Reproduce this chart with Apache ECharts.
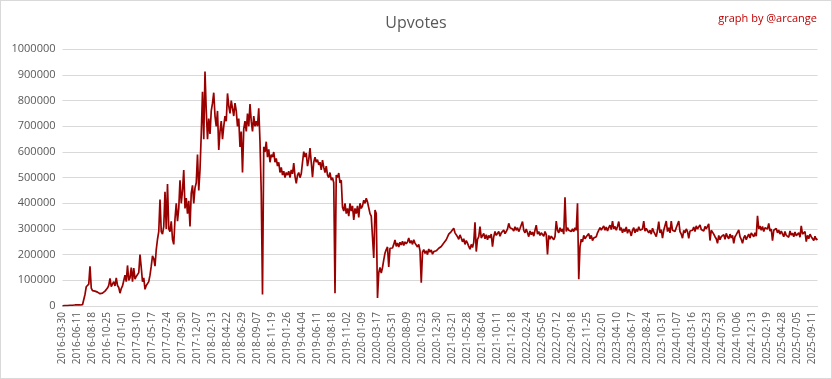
<!DOCTYPE html>
<html><head><meta charset="utf-8">
<script src="https://cdn.jsdelivr.net/npm/echarts@6/dist/echarts.min.js"></script>
<style>
html,body{margin:0;padding:0;background:#fff;}
#c{width:832px;height:379px;box-sizing:border-box;border:1px solid #d9d9d9;}
</style></head>
<body><div id="c"></div>
<script>
// Tick labels (every 12th category)
const tickLabels = ["2016-03-30","2016-06-11","2016-08-18","2016-10-25","2017-01-01","2017-03-10","2017-05-17","2017-07-24","2017-09-30","2017-12-07","2018-02-13","2018-04-22","2018-06-29","2018-09-07","2018-11-19","2019-01-26","2019-04-04","2019-06-11","2019-08-18","2019-11-02","2020-01-09","2020-03-17","2020-05-31","2020-08-09","2020-10-23","2020-12-30","2021-03-21","2021-05-28","2021-08-04","2021-10-11","2021-12-18","2022-02-24","2022-05-05","2022-07-12","2022-09-18","2022-11-25","2023-02-01","2023-04-10","2023-06-17","2023-08-24","2023-10-31","2024-01-07","2024-03-16","2024-05-23","2024-07-30","2024-10-06","2024-12-13","2025-02-19","2025-04-28","2025-07-05","2025-09-11"];
const perTick = 12;
// Upvotes in thousands: 12 samples per tick interval, grouped by the year of the tick
const upvotes2016 = [
 1,1,2,2,2,3,3,3,3,4,4,4,
 4,4,4,4,5,8,45,75,68,85,155,70,
 60,55,58,52,54,50,48,52,50,56,58,62,
 70,80,108,75,85,95,78,110,80,72,50,68];
const upvotes2017 = [
 78,85,120,95,158,100,110,150,95,148,105,115,
 110,130,200,150,95,110,65,80,75,95,120,155,
 195,185,155,220,260,290,415,290,280,310,445,300,
 475,300,290,330,260,240,340,400,330,380,490,400,
 450,530,380,420,360,410,310,440,470,400,460,480,
 590,450,530,670,835,650,913,760,650,730,670,760];
const upvotes2018 = [
 790,831,740,700,760,608,680,720,650,700,740,720,
 828,780,750,800,770,740,790,760,700,730,620,680,
 520,690,720,680,750,700,787,720,680,740,700,720,
 700,770,640,440,45,620,600,640,580,610,560,590,
 580,600,560,575,545,560,520,540,510,525,500,520];
const upvotes2019 = [
 510,525,500,530,515,557,505,478,510,520,500,515,
 560,601,580,596,545,570,615,560,502,560,580,560,
 570,550,560,530,568,540,520,545,510,500,520,490,
 500,480,50,510,500,518,480,490,385,370,400,360,
 380,350,400,370,390,335,380,360,390,345,400,380];
const upvotes2020 = [
 390,412,400,420,405,410,360,350,346,187,374,360,
 31,130,150,128,150,180,206,220,230,152,225,218,
 226,240,257,232,245,230,248,238,252,236,250,242,
 250,265,245,255,240,258,245,250,230,240,215,91,
 210,220,205,215,200,222,210,218,202,212,206,215,
 212,225,218,232,228,245,240,258,265,280,275,290];
const upvotes2021 = [
 290,303,285,292,270,260,277,265,250,262,240,255,
 245,232,221,240,228,248,326,212,260,270,309,265,
 270,283,262,278,258,275,265,280,231,270,290,275,
 275,290,272,285,278,296,282,290,300,322,305,310,
 300,292,309,295,305,290,302,298,329,295,285,300];
const upvotes2022 = [
 285,270,292,278,288,272,295,315,280,290,275,285,
 285,272,290,278,201,275,260,272,265,258,270,331,
 295,285,305,290,300,280,424,290,305,295,300,290,
 300,290,305,295,400,104,231,260,250,275,262,270,
 270,282,262,275,255,265,258,270,285,290,305,296];
const upvotes2023 = [
 300,312,295,308,292,305,315,298,331,300,310,295,
 310,329,295,305,285,300,290,308,283,298,290,273,
 295,305,285,300,290,309,295,288,300,331,292,302,
 300,285,295,280,303,290,285,270,295,329,285,298,
 264,295,300,331,290,305,285,331,295,300,290,305];
const upvotes2024 = [
 300,331,290,280,264,295,285,300,290,264,292,285,
 295,308,290,312,300,295,316,298,305,292,310,300,
 300,320,255,295,290,280,270,262,244,275,258,270,
 265,278,260,283,270,262,280,265,275,244,270,278,
 275,296,270,260,244,265,275,258,270,280,265,285,
 280,270,285,272,351,300,312,295,310,290,305,298];
const upvotes2025 = [
 300,322,292,300,255,295,288,302,285,296,280,292,
 285,270,290,275,282,268,292,276,284,270,288,274,
 275,285,268,312,280,275,290,251,275,262,280,270,
 265,255,272,258,262];

const values = [].concat(upvotes2016,upvotes2017,upvotes2018,upvotes2019,upvotes2020,upvotes2021,upvotes2022,upvotes2023,upvotes2024,upvotes2025).map(v => v*1000);

// categories: tick dates plus intermediate dates
function addDays(s, d){ const t = new Date(s+"T00:00:00Z"); t.setUTCDate(t.getUTCDate()+d); return t.toISOString().slice(0,10); }
const categories = [];
for (let i=0; i<tickLabels.length && categories.length<values.length; i++){
  const next = tickLabels[i+1];
  const span = next ? (new Date(next) - new Date(tickLabels[i]))/86400000 : 68;
  for (let k=0;k<perTick && categories.length<values.length;k++){
    categories.push(k===0 ? tickLabels[i] : addDays(tickLabels[i], Math.round(k*span/perTick)));
  }
}

const chart = echarts.init(document.getElementById('c'), null, {renderer:'canvas'});
chart.setOption({
  animation:false,
  backgroundColor:'#ffffff',
  title:[
    {text:'Upvotes', left:'center', top:9, textStyle:{fontFamily:'Open Sans', fontSize:16, fontWeight:'normal', color:'#595959'}},
    {text:'graph by @arcange', right:9, top:7, textStyle:{fontFamily:'Open Sans', fontSize:11, fontWeight:'normal', color:'#c00000'}}
  ],
  grid:{left:61.5, right:13.5, top:48.3, bottom:72, containLabel:false},
  xAxis:{
    type:'category', data:categories, boundaryGap:false,
    axisLine:{show:true, lineStyle:{color:'#d9d9d9', width:1}},
    axisTick:{show:false},
    axisLabel:{interval:perTick-1, rotate:90, margin:6, fontFamily:'Open Sans', fontSize:10, color:'#595959'},
    splitLine:{show:false}
  },
  yAxis:{
    type:'value', min:0, max:1000000, interval:100000,
    axisLine:{show:false}, axisTick:{show:false},
    axisLabel:{fontFamily:'Open Sans', fontSize:11, color:'#595959', margin:7, formatter: v => String(v)},
    splitLine:{lineStyle:{color:'#d9d9d9', width:1}}
  },
  series:[{
    type:'line', data:values, symbol:'none', showSymbol:false,
    lineStyle:{color:'#990000', width:1.7},
    itemStyle:{color:'#990000'}
  }]
});
</script>
</body></html>
